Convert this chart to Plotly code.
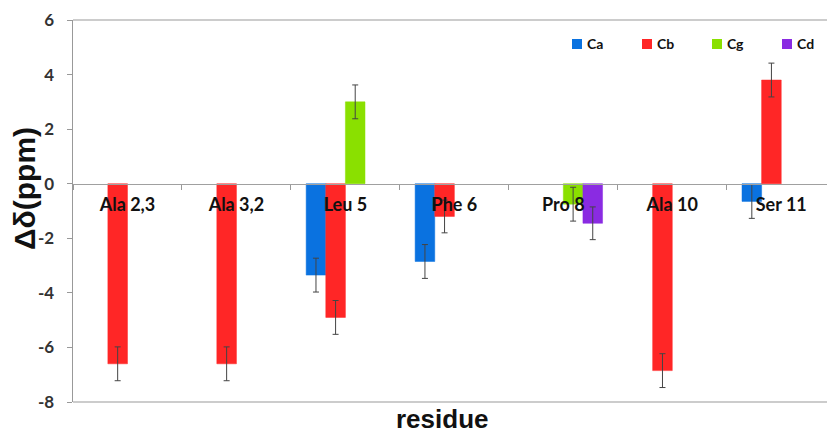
import plotly.graph_objects as go

residues = ["Ala 2,3", "Ala 3,2", "Leu 5", "Phe 6", "Pro 8", "Ala 10", "Ser 11"]
series_names = ["Ca", "Cb", "Cg", "Cd"]
ca = [None, None, -3.35, -2.85, None, None, -0.65]
cb = [-6.6, -6.6, -4.9, -1.2, None, -6.85, 3.8]
cg = [None, None, 3.0, None, -0.75, None, None]
cd = [None, None, None, None, -1.45, None, None]
ca_err = [0, 0, 0.62, 0.62, 0, 0, 0.62]
cb_err = [0.62, 0.62, 0.62, 0.6, 0, 0.62, 0.62]
cg_err = [0, 0, 0.62, 0, 0.62, 0, 0]
cd_err = [0, 0, 0, 0, 0.6, 0, 0]
y_tick_values = [-8, -6, -4, -2, 0, 2, 4, 6]
y_tick_labels = ["-8", "-6", "-4", "-2", "0", "2", "4", "6"]
colors = ["#0a72e0", "#ff2626", "#8ae000", "#8a2be2"]

values = [ca, cb, cg, cd]
errors = [ca_err, cb_err, cg_err, cd_err]

fig = go.Figure()
for name, vals, errs, col in zip(series_names, values, errors, colors):
    fig.add_trace(go.Bar(
        x=residues, y=vals, name=name,
        marker=dict(color=col, line=dict(color=col, width=0.5)),
        error_y=dict(type="data", array=errs, visible=True,
                     color="#444444", thickness=1, width=3),
    ))

W, H = 827, 436
ml, mt, mb, mr = 73, 20, 34, 0
pw, ph = W - ml - mr, H - mt - mb

def px_x(px):
    return (px - ml) / pw

def px_y(py):
    return 1 - (py - mt) / ph

fig.update_layout(
    width=W, height=H,
    margin=dict(l=ml, r=mr, t=mt, b=mb),
    plot_bgcolor="white", paper_bgcolor="white",
    barmode="group", bargap=0.28, bargroupgap=0,
    font=dict(family="Lato, Liberation Sans, sans-serif", color="#222222"),
    showlegend=False,
)
fig.update_yaxes(
    range=[-8, 6], tickmode="array", tickvals=y_tick_values, ticktext=y_tick_labels,
    showgrid=False, zeroline=False,
    showline=True, linecolor="#999999", linewidth=1.5,
    ticks="outside", ticklen=5, tickcolor="#999999",
    tickfont=dict(size=17, family="Lato", color="#333333", weight="bold"),
    ticklabelstandoff=9,
)
fig.update_xaxes(
    type="category", range=[-0.5, 6.42],
    anchor="free", position=8/14,
    showgrid=False, zeroline=False,
    showline=True, linecolor="#a0a0a0", linewidth=1.5,
    ticks="outside", ticklen=5, tickcolor="#999999", tickson="boundaries",
    tickfont=dict(size=18, family="Lato", color="#111111", weight="bold"),
    ticklabelstandoff=4,
)
# frame lines at top and bottom of plot area
fig.add_shape(type="line", xref="paper", yref="paper", x0=0, x1=1, y0=1, y1=1,
              line=dict(color="#bbbbbb", width=1.5))
fig.add_shape(type="line", xref="paper", yref="paper", x0=0, x1=1, y0=0, y1=0,
              line=dict(color="#bbbbbb", width=1.5))
# axis titles
fig.add_annotation(text="residue", xref="paper", yref="paper", x=px_x(442), y=0,
                   yshift=-34, showarrow=False, yanchor="bottom",
                   font=dict(size=26, family="Liberation Sans", color="#111111", weight="bold"))
fig.add_annotation(text="Δδ(ppm)", xref="paper", yref="paper", x=px_x(24), y=px_y(189),
                   textangle=-90, showarrow=False, xanchor="center", yanchor="middle",
                   font=dict(size=30, family="Liberation Sans", color="#111111", weight="bold"))

# custom legend (square + label)
for i, (name, col) in enumerate(zip(series_names, colors)):
    x0 = 572 + 70 * i
    fig.add_shape(type="rect", xref="paper", yref="paper",
                  x0=px_x(x0), x1=px_x(x0 + 10), y0=px_y(49), y1=px_y(39),
                  fillcolor=col, line=dict(width=0))
    fig.add_annotation(text=name, xref="paper", yref="paper",
                       x=px_x(x0 + 13), y=px_y(44), xanchor="left", yanchor="middle",
                       showarrow=False,
                       font=dict(size=14, family="Lato", color="#111111", weight="bold"))

fig.write_html("out.html", config={"displayModeBar": False, "staticPlot": True},
               post_script="document.body.style.margin='0';"
                           "document.body.style.overflow='hidden';"
                           "document.documentElement.style.overflow='hidden';")
